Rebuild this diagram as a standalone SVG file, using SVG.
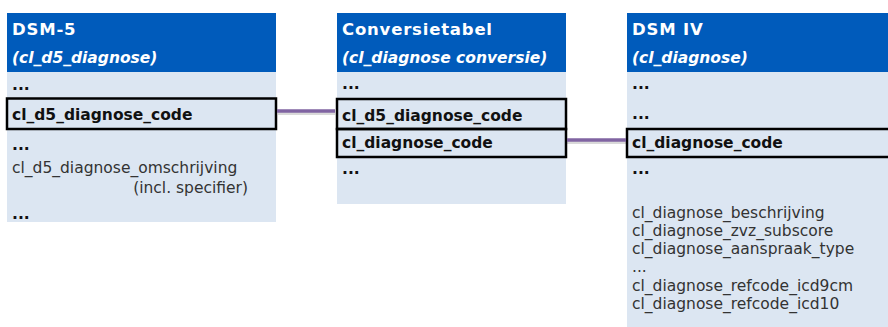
<svg xmlns="http://www.w3.org/2000/svg" width="888" height="327" viewBox="0 0 888 327">
<defs>
<style>
.hdr{fill:#005BBB}
.body{fill:#DCE6F2}
.t{font-family:"DejaVu Sans",Verdana,sans-serif;font-size:15.5px;fill:#111}
.b{font-weight:bold}
.w{fill:#fff;font-weight:bold}
.h{font-size:16.5px;letter-spacing:0.8px}
.i{font-style:italic}
.reg{fill:#333}
.hl{fill:none;stroke:#000;stroke-width:2.5}
.con{stroke:#8064A2;stroke-width:3.5;fill:none}
.sh{stroke:#000;stroke-opacity:0.15;stroke-width:3;fill:none}
</style>
</defs>
<g id="dsm5">
<rect class="body" x="7" y="13" width="269" height="209"/>
<rect class="hdr" x="7" y="13" width="269" height="59"/>
<text class="t w h" x="12" y="35">DSM-5</text>
<text class="t w i" x="12" y="63">(cl_d5_diagnose)</text>
<text class="t b" x="12" y="90">...</text>
<rect class="hl" x="7" y="98.5" width="269" height="30.5"/>
<text class="t b" x="12" y="120">cl_d5_diagnose_code</text>
<text class="t b" x="12" y="150">...</text>
<text class="t reg" x="12" y="173">cl_d5_diagnose_omschrijving</text>
<text class="t reg" x="248" y="193" text-anchor="end">(incl. specifier)</text>
<text class="t b" x="12" y="219">...</text>
</g>
<g id="conversie">
<rect class="body" x="337" y="13" width="229" height="191"/>
<rect class="hdr" x="337" y="13" width="229" height="59"/>
<text class="t w h" x="342" y="35">Conversietabel</text>
<text class="t w i" x="342" y="63">(cl_diagnose conversie)</text>
<text class="t b" x="342" y="89">...</text>
<rect class="hl" x="337" y="99" width="229" height="30"/>
<text class="t b" x="342" y="121">cl_d5_diagnose_code</text>
<rect class="hl" x="337" y="129" width="229" height="28"/>
<text class="t b" x="342" y="148">cl_diagnose_code</text>
<text class="t b" x="342" y="174">...</text>
</g>
<g id="dsm4">
<rect class="body" x="627" y="13" width="263" height="314"/>
<rect class="hdr" x="627" y="13" width="263" height="59"/>
<text class="t w h" x="632" y="35">DSM IV</text>
<text class="t w i" x="632" y="63">(cl_diagnose)</text>
<text class="t b" x="632" y="89">...</text>
<text class="t b" x="632" y="119">...</text>
<rect class="hl" x="627" y="129" width="263" height="28"/>
<text class="t b" x="632" y="148">cl_diagnose_code</text>
<text class="t b" x="632" y="174">...</text>
<text class="t reg" x="632" y="218">cl_diagnose_beschrijving</text>
<text class="t reg" x="632" y="236">cl_diagnose_zvz_subscore</text>
<text class="t reg" x="632" y="254">cl_diagnose_aanspraak_type</text>
<text class="t reg" x="632" y="272">...</text>
<text class="t reg" x="632" y="291">cl_diagnose_refcode_icd9cm</text>
<text class="t reg" x="632" y="309">cl_diagnose_refcode_icd10</text>
</g>
<g id="connectors">
<line class="sh" x1="278" y1="113.5" x2="335" y2="113.5"/>
<line class="con" x1="277" y1="111" x2="335" y2="111"/>
<line class="sh" x1="567" y1="142.5" x2="626" y2="142.5"/>
<line class="con" x1="567" y1="140" x2="626" y2="140"/>
</g>
</svg>
